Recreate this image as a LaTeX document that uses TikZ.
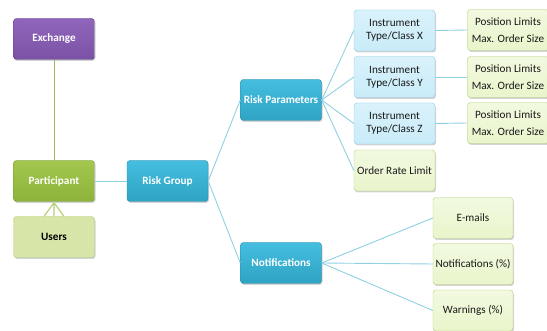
\documentclass[tikz,border=0pt]{standalone}
\usepackage{fontspec}
\setmainfont{Carlito}
\usetikzlibrary{shadows}
\definecolor{purp}{HTML}{7A52A5}
\definecolor{purpT}{HTML}{9066BC}
\definecolor{grn}{HTML}{8DB33A}
\definecolor{grnT}{HTML}{A3C74E}
\definecolor{blu}{HTML}{2FA3C4}
\definecolor{bluT}{HTML}{45BEDF}
\definecolor{lblue}{HTML}{C9ECF9}
\definecolor{lblueB}{HTML}{8CCFE6}
\definecolor{lgrn}{HTML}{E9F5CB}
\definecolor{lgrnB}{HTML}{B5D17A}
\definecolor{ugrn}{HTML}{D7E5A9}
\definecolor{conn}{HTML}{8FD0E3}
\definecolor{gconn}{HTML}{9BBB59}
\tikzset{
  base/.style={rounded corners=3pt, minimum width=81pt, minimum height=41pt, inner sep=1pt, align=center, font=\fontsize{11.2}{13}\selectfont, drop shadow={shadow xshift=1pt, shadow yshift=-1.5pt, opacity=0.35}},
  dark/.style={base, text=white, font=\fontsize{11.2}{13}\selectfont\bfseries},
  purpbox/.style={dark, top color=purpT, bottom color=purp, draw=purp!80!black},
  grnbox/.style={dark, top color=grnT, bottom color=grn, draw=grn!85!black},
  blubox/.style={dark, top color=bluT, bottom color=blu, draw=blu!85!black},
  ubox/.style={base, fill=ugrn, draw=lgrnB, font=\fontsize{11.2}{13}\selectfont\bfseries},
  ibox/.style={base, top color=lblue!70!white, bottom color=lblue, draw=lblueB, text=black!90},
  gbox/.style={base, top color=lgrn!60!white, bottom color=lgrn, draw=lgrnB, text=black!90},
  cl/.style={draw=conn, line width=0.9pt},
}
\begin{document}
\begin{tikzpicture}[x=1pt,y=-1pt]
\useasboundingbox (0,0) rectangle (547,331);
\node[purpbox] (ex) at (54,39) {Exchange};
\node[grnbox] (pa) at (54,181) {Participant};
\node[ubox] (us) at (54,237) {Users};
\node[blubox] (rg) at (167.5,181) {Risk Group};
\node[blubox] (rp) at (281,100) {Risk Parameters};
\node[blubox] (no) at (281,263) {Notifications};
\node[ibox] (ix) at (394.5,30.5) {Instrument\\Type/Class X};
\node[ibox] (iy) at (394.5,77) {Instrument\\Type/Class Y};
\node[ibox] (iz) at (394.5,123.5) {Instrument\\Type/Class Z};
\node[gbox] (orl) at (394.5,170.5) {Order Rate Limit};
\node[gbox, font=\fontsize{11.2}{17}\selectfont] (px) at (508,30) {Position Limits\\Max. Order Size};
\node[gbox, font=\fontsize{11.2}{17}\selectfont] (py) at (508,77) {Position Limits\\Max. Order Size};
\node[gbox, font=\fontsize{11.2}{17}\selectfont] (pz) at (508,123) {Position Limits\\Max. Order Size};
\node[gbox, minimum width=80pt] (em) at (473,218) {E-mails};
\node[gbox, minimum width=80pt] (nt) at (473,264) {Notifications (\%)};
\node[gbox, minimum width=80pt] (wa) at (473,310.5) {Warnings (\%)};
\draw[draw=gconn, line width=1pt] (ex.south) -- (pa.north);
\coordinate (us1) at ([xshift=-10pt]us.north);
\coordinate (us2) at ([xshift=10pt]us.north);
\coordinate (tip) at ([yshift=-1pt]pa.south);
\draw[draw=lgrnB, line width=1.2pt] (us.north) -- (tip) (us1) -- (tip) (us2) -- (tip);
\draw[cl] (pa.east) -- (rg.west);
\draw[cl] (rg.east) -- (rp.west);
\draw[cl] (rg.east) -- (no.west);
\foreach \t in {ix,iy,iz,orl} \draw[cl] (rp.east) -- (\t.west);
\draw[cl] (ix.east) -- (px.west);
\draw[cl] (iy.east) -- (py.west);
\draw[cl] (iz.east) -- (pz.west);
\foreach \t in {em,nt,wa} \draw[cl] (no.east) -- (\t.west);
\end{tikzpicture}
\end{document}
